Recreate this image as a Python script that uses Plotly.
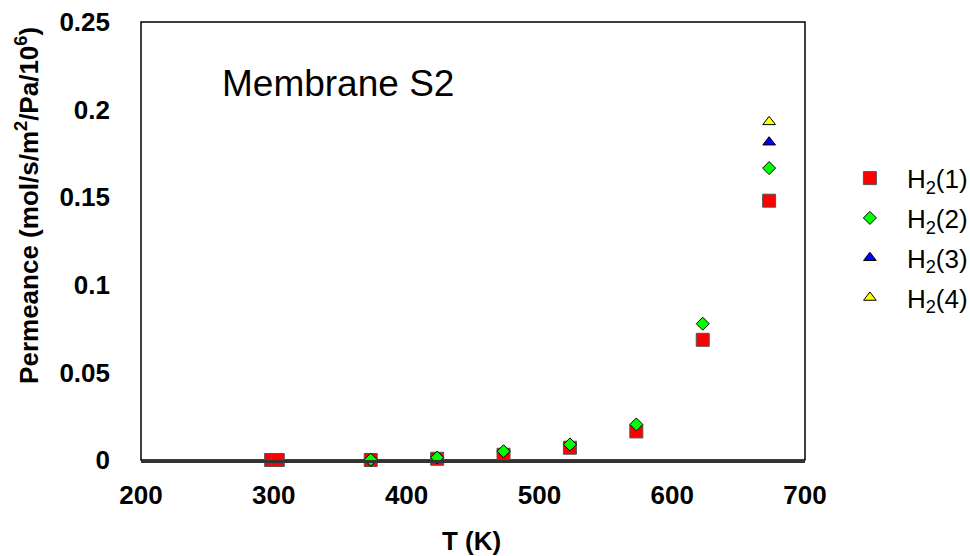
import plotly.graph_objects as go

# Data
T_h2_1 = [298, 303, 373, 423, 473, 523, 573, 623, 673]
P_h2_1 = [0.0, 0.0, 0.0, 0.0007, 0.003, 0.007, 0.0163, 0.0686, 0.148]
T_h2_2 = [373, 423, 473, 523, 573, 623, 673]
P_h2_2 = [0.0002, 0.0014, 0.005, 0.0089, 0.0203, 0.0778, 0.1666]
T_h2_3 = [673]
P_h2_3 = [0.1814]
T_h2_4 = [673]
P_h2_4 = [0.193]

x_ticks = [200, 300, 400, 500, 600, 700]
y_ticks = [0, 0.05, 0.1, 0.15, 0.2, 0.25]
y_tick_text = ["0", "0.05", "0.1", "0.15", "0.2", "0.25"]

FONT = "Liberation Sans, Arial, sans-serif"

fig = go.Figure()
fig.add_trace(go.Scatter(x=T_h2_1, y=P_h2_1, mode="markers", name="H<sub>2</sub>(1)",
                         legendgroup="1", cliponaxis=False,
                         marker=dict(symbol="square", size=13, color="#ff0000",
                                     line=dict(color="#555555", width=1))))
fig.add_trace(go.Scatter(x=T_h2_2, y=P_h2_2, mode="markers", name="H<sub>2</sub>(2)",
                         legendgroup="2", cliponaxis=False,
                         marker=dict(symbol="diamond", size=10, color="#00ff00",
                                     line=dict(color="#000000", width=1))))
fig.add_trace(go.Scatter(x=T_h2_3, y=P_h2_3, mode="markers", name="H<sub>2</sub>(3)",
                         legendgroup="3", cliponaxis=False,
                         marker=dict(symbol="triangle-up", size=11, color="#0000ff",
                                     line=dict(color="#000000", width=1))))
fig.add_trace(go.Scatter(x=T_h2_4, y=P_h2_4, mode="markers", name="H<sub>2</sub>(4)",
                         legendgroup="4", cliponaxis=False,
                         marker=dict(symbol="triangle-up", size=11, color="#ffff00",
                                     line=dict(color="#000000", width=1))))

fig.add_shape(type="rect", xref="paper", yref="paper", x0=0, x1=1, y0=0, y1=1,
              line=dict(color="#000000", width=1.5), layer="below")

fig.add_annotation(text="Membrane S2", xref="paper", yref="paper", x=0.296, y=0.86,
                   xanchor="center", yanchor="middle", showarrow=False,
                   font=dict(family=FONT, size=37, color="#000000"))

# axis titles placed as annotations to match reference offsets
fig.add_annotation(text="Permeance (mol/s/m<sup>2</sup>/Pa/10<sup>6</sup>)",
                   xref="paper", yref="paper", x=-0.172, y=0.582, textangle=-90,
                   xanchor="center", yanchor="middle", showarrow=False,
                   font=dict(family=FONT, size=26, weight="bold", color="#000000"))
fig.add_annotation(text="T (K)", xref="paper", yref="paper", x=0.497, y=-0.186,
                   xanchor="center", yanchor="middle", showarrow=False,
                   font=dict(family=FONT, size=26, weight="bold", color="#000000"))

fig.update_layout(
    width=970, height=556,
    margin=dict(l=141, r=165, t=22, b=96, autoexpand=False),
    paper_bgcolor="white", plot_bgcolor="white",
    font=dict(family=FONT, color="#000000"),
    showlegend=True,
    legend=dict(x=1.042, y=0.697, xanchor="left", yanchor="top",
                font=dict(family=FONT, size=26, color="#000000"),
                itemwidth=64,
                tracegroupgap=3, bgcolor="rgba(0,0,0,0)"),
    xaxis=dict(range=[200, 700], tickvals=x_ticks, ticks="", showgrid=False, zeroline=False,
               showline=True, linecolor="#333333", linewidth=3,
               ticklabelstandoff=10,
               tickfont=dict(family=FONT, size=26, weight="bold", color="#000000")),
    yaxis=dict(range=[0, 0.25], tickvals=y_ticks, ticktext=y_tick_text, ticks="",
               showgrid=False, zeroline=False, showline=False,
               ticklabelstandoff=30,
               tickfont=dict(family=FONT, size=26, weight="bold", color="#000000")),
)

fig.write_html("out.html")
